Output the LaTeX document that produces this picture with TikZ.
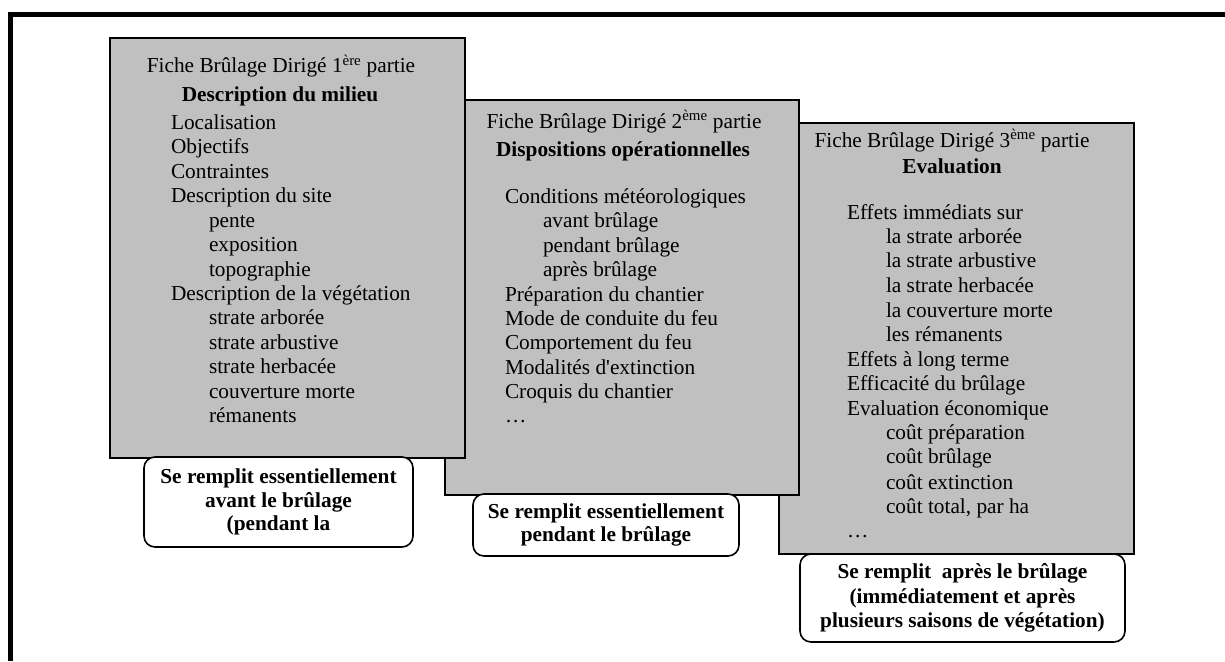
\documentclass[tikz,border=0pt]{standalone}
\usepackage{fontspec}
\setmainfont{Liberation Serif}
\definecolor{ficheg}{HTML}{C0C0C0}
\begin{document}
\begin{tikzpicture}[x=1pt,y=-1pt,
  fiche/.style={draw=black, line width=1.6pt, fill=ficheg, rectangle, inner sep=0pt, outer sep=0pt, anchor=north west},
  note/.style={draw=black, line width=1.6pt, fill=white, rounded corners=11pt, inner sep=0pt, outer sep=0pt, anchor=north west, align=center, font=\fontsize{21.3}{23.5}\selectfont\bfseries},
  txt/.style={inner sep=0pt, outer sep=0pt, font=\fontsize{21.3}{24}\selectfont},
  item/.style={txt, anchor=base west},
  head/.style={txt, anchor=base},
  bhead/.style={txt, anchor=base, font=\fontsize{21.3}{24}\selectfont\bfseries}]

\useasboundingbox (0,0) rectangle (1225,661);

% outer frame
\coordinate (fbl) at (10.5,661);
\coordinate (ftl) at (10.5,14.5);
\coordinate (ftr) at (1225,14.5);
\draw[line width=5pt] (fbl) -- (ftl) -- (ftr);

% sheets
\node[fiche, minimum width=355pt, minimum height=431pt] (box3) at (779,123) {};
\node[fiche, minimum width=354pt, minimum height=395pt] (box2) at (445,100) {};
\node[fiche, minimum width=355pt, minimum height=420pt] (box1) at (110,38) {};

% sheet 1
\node[head] (t1) at (281,73) {Fiche Brûlage Dirigé 1\textsuperscript{ère} partie};
\node[bhead] (h1) at (280,101) {Description du milieu};
\node[item] (a1) at (171,129) {Localisation};
\node[item] (a2) at (171,153) {Objectifs};
\node[item] (a3) at (171,178) {Contraintes};
\node[item] (a4) at (171,202) {Description du site};
\node[item] (a5) at (209,227) {pente};
\node[item] (a6) at (209,251) {exposition};
\node[item] (a7) at (209,276) {topographie};
\node[item] (a8) at (171,300) {Description de la végétation};
\node[item] (a9) at (209,324.5) {strate arborée};
\node[item] (a10) at (209,349) {strate arbustive};
\node[item] (a11) at (209,373.5) {strate herbacée};
\node[item] (a12) at (209,398) {couverture morte};
\node[item] (a13) at (209,422) {rémanents};

% sheet 2
\node[head] (t2) at (624,128) {Fiche Brûlage Dirigé 2\textsuperscript{ème} partie};
\node[bhead] (h2) at (623,156) {Dispositions opérationnelles};
\node[item] (b1) at (505,203) {Conditions météorologiques};
\node[item] (b2) at (543,227) {avant brûlage};
\node[item] (b3) at (543,252) {pendant brûlage};
\node[item] (b4) at (543,276) {après brûlage};
\node[item] (b5) at (505,301) {Préparation du chantier};
\node[item] (b6) at (505,325) {Mode de conduite du feu};
\node[item] (b7) at (505,349) {Comportement du feu};
\node[item] (b8) at (505,374) {Modalités d\textquotesingle extinction};
\node[item] (b9) at (505,398) {Croquis du chantier};
\node[item] (b10) at (505,422) {\ldots};

% sheet 3
\node[head] (t3) at (952,147) {Fiche Brûlage Dirigé 3\textsuperscript{ème} partie};
\node[bhead] (h3) at (952,173) {Evaluation};
\node[item] (c1) at (847,219) {Effets immédiats sur};
\node[item] (c2) at (886,243) {la strate arborée};
\node[item] (c3) at (886,267) {la strate arbustive};
\node[item] (c4) at (886,292) {la strate herbacée};
\node[item] (c5) at (886,317) {la couverture morte};
\node[item] (c6) at (886,341) {les rémanents};
\node[item] (c7) at (847,366) {Effets à long terme};
\node[item] (c8) at (847,390) {Efficacité du brûlage};
\node[item] (c9) at (847,415) {Evaluation économique};
\node[item] (c10) at (886,439) {coût préparation};
\node[item] (c11) at (886,463) {coût brûlage};
\node[item] (c12) at (886,489) {coût extinction};
\node[item] (c13) at (886,513) {coût total, par ha};
\node[item] (c14) at (847,537) {\ldots};

% callouts
\node[note, minimum width=269pt, minimum height=90pt] (n1) at (144,457)
  {Se remplit essentiellement\\avant le brûlage\\(pendant la};
\node[note, minimum width=266pt, minimum height=62pt] (n2) at (473,494)
  {Se remplit essentiellement\\pendant le brûlage};
\node[note, minimum width=325pt, minimum height=88pt,
  font=\fontsize{21.3}{24.5}\selectfont\bfseries] (n3) at (800,554)
  {Se remplit\ \ après le brûlage\\(immédiatement et après\\plusieurs saisons de végétation)};
\end{tikzpicture}
\end{document}
